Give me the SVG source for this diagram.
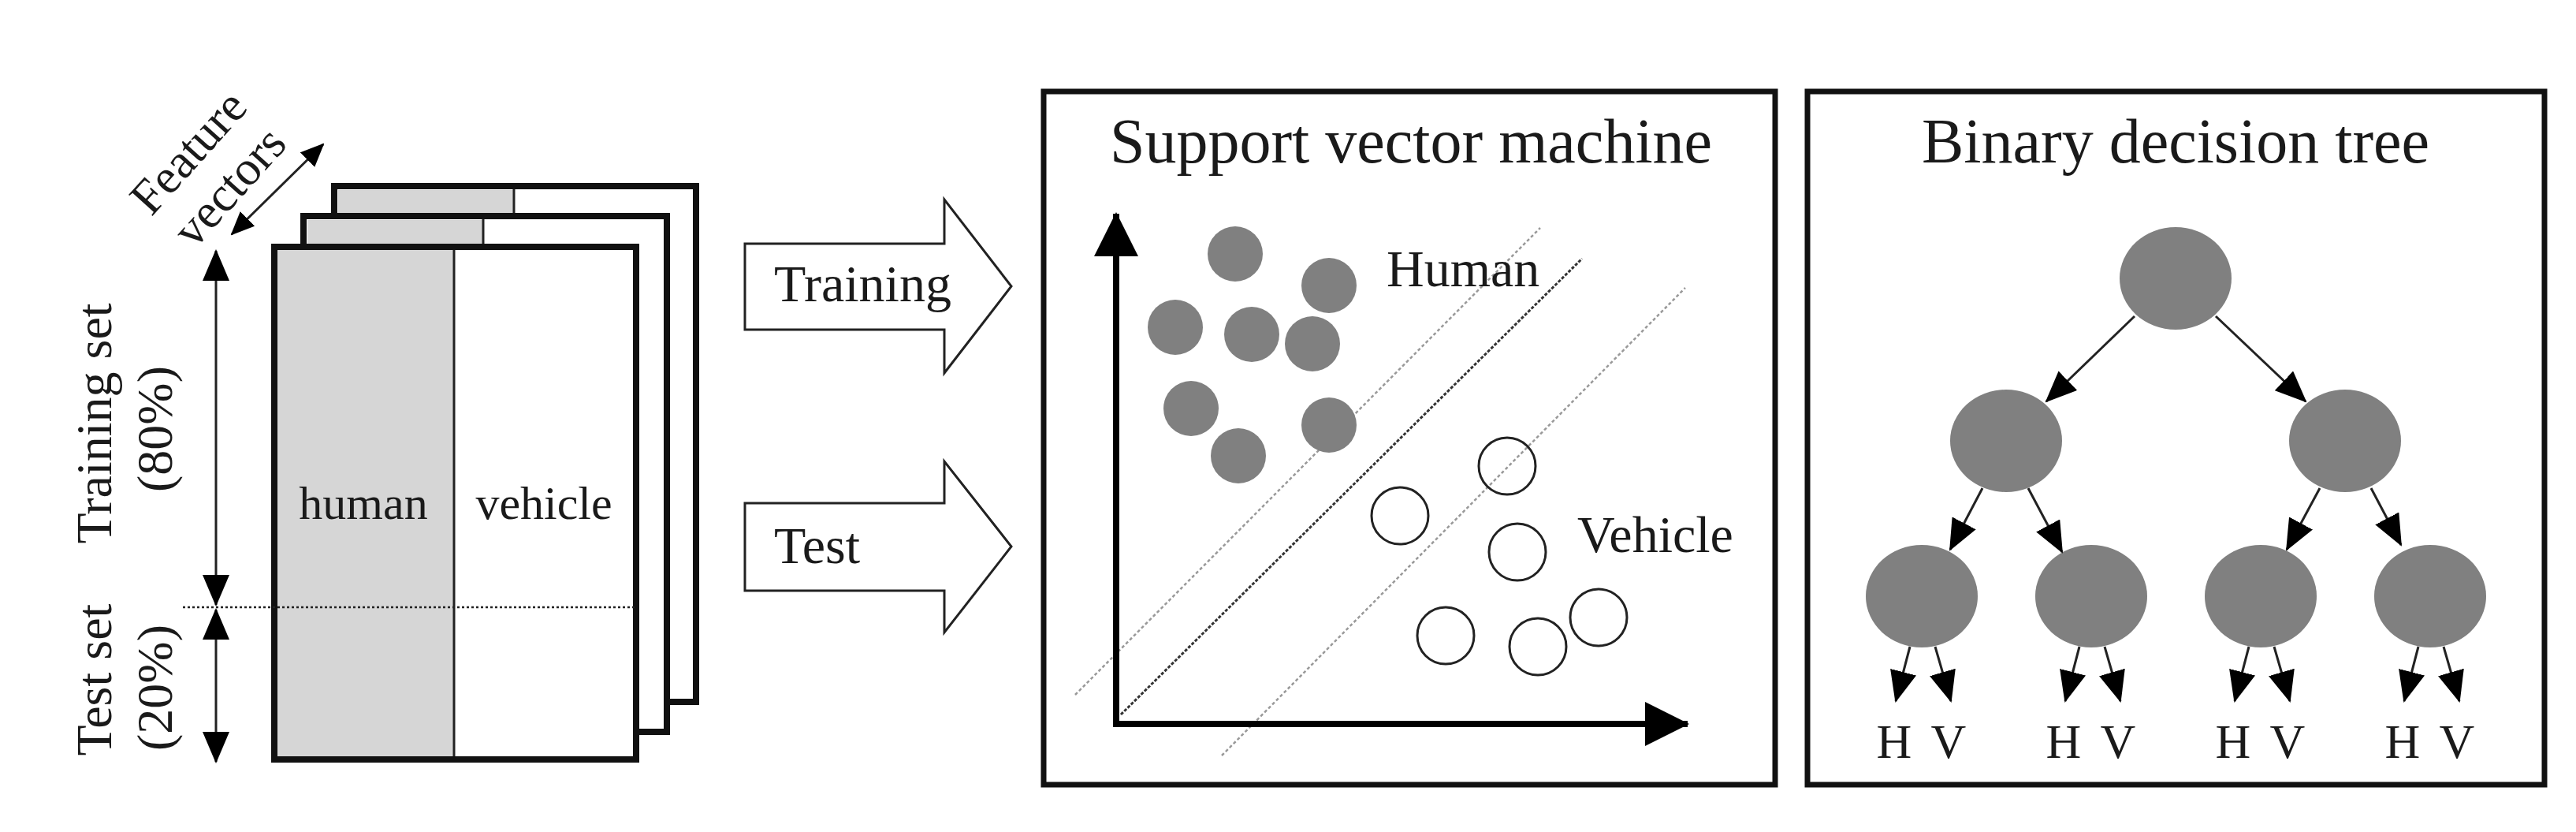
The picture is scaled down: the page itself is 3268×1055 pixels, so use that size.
<svg xmlns="http://www.w3.org/2000/svg" width="3268" height="1055" viewBox="0 0 3268 1055">
<style>
text{font-family:"Liberation Serif","Times New Roman",serif;fill:#1a1a1a}
.sheet{fill:#fff;stroke:#111;stroke-width:8}
.gray{fill:#d6d6d6}
.div{stroke:#222;stroke-width:3}
.box{fill:#fff;stroke:#111;stroke-width:7}
.blk{fill:#fff;stroke:#222;stroke-width:3}
.dot{fill:#808080}
.open{fill:none;stroke:#222;stroke-width:3}
.node{fill:#808080}
.edge{stroke:#222;stroke-width:3;fill:none}
</style>
<defs>
<marker id="ah" viewBox="0 0 40 34" refX="38" refY="17" markerWidth="40" markerHeight="34" markerUnits="userSpaceOnUse" orient="auto-start-reverse"><path d="M0,0 L40,17 L0,34 Z" fill="#000"/></marker>
<marker id="ahs" viewBox="0 0 30 26" refX="28" refY="13" markerWidth="30" markerHeight="26" markerUnits="userSpaceOnUse" orient="auto-start-reverse"><path d="M0,0 L30,13 L0,26 Z" fill="#000"/></marker>
<marker id="ax" viewBox="0 0 56 56" refX="54" refY="28" markerWidth="56" markerHeight="56" markerUnits="userSpaceOnUse" orient="auto"><path d="M0,0 L56,28 L0,56 Z" fill="#000"/></marker>
</defs>

<g id="dataset">
<rect class="sheet" x="424" y="236" width="459" height="654"/>
<rect class="gray" x="429" y="241" width="223" height="30"/>
<line class="div" x1="652" y1="240" x2="652" y2="272"/>
<rect class="sheet" x="385" y="274" width="461" height="654"/>
<rect class="gray" x="390" y="279" width="223" height="33"/>
<line class="div" x1="613" y1="278" x2="613" y2="312"/>
<rect class="sheet" x="348" y="313" width="459" height="650"/>
<rect class="gray" x="352" y="317" width="224" height="642"/>
<line class="div" x1="576" y1="317" x2="576" y2="959"/>
<line x1="232" y1="770" x2="808" y2="770" stroke="#222" stroke-width="2.5" stroke-dasharray="3,3"/>
<text x="461" y="658" font-size="60" text-anchor="middle">human</text>
<text x="690" y="658" font-size="60" text-anchor="middle">vehicle</text>
</g>

<g id="labels-left">
<text transform="translate(141,537) rotate(-90)" font-size="64" text-anchor="middle">Training set</text>
<text transform="translate(218,544) rotate(-90)" font-size="64" text-anchor="middle">(80%)</text>
<text transform="translate(141,862) rotate(-90)" font-size="64" text-anchor="middle">Test set</text>
<text transform="translate(218,872) rotate(-90)" font-size="64" text-anchor="middle">(20%)</text>
<text transform="translate(238,192) rotate(-48)" font-size="62" text-anchor="middle" dy=".35em">Feature</text>
<text transform="translate(290,236) rotate(-48)" font-size="62" text-anchor="middle" dy=".35em">vectors</text>
</g>

<g id="training-arrow">
<path class="blk" d="M945,309 L1198,309 L1198,253 L1283,363 L1198,473 L1198,418 L945,418 Z"/>
<text x="982" y="382" font-size="66">Training</text>
</g>
<g id="test-arrow">
<path class="blk" d="M945,638 L1198,638 L1198,585 L1283,693 L1198,802 L1198,749 L945,749 Z"/>
<text x="982" y="714" font-size="66">Test</text>
</g>

<g id="svm">
<rect class="box" x="1324" y="116" width="928" height="879"/>
<text x="1790" y="206" font-size="80" text-anchor="middle">Support vector machine</text>
<line x1="1364" y1="881" x2="1954" y2="289" stroke="#999" stroke-width="2.5" stroke-dasharray="4,3"/>
<line x1="1422" y1="906" x2="2007" y2="328" stroke="#333" stroke-width="3" stroke-dasharray="4,2"/>
<line x1="1550" y1="958" x2="2138" y2="365" stroke="#999" stroke-width="2.5" stroke-dasharray="4,3"/>
<line x1="1416" y1="918" x2="1416" y2="271" stroke="#000" stroke-width="8" marker-end="url(#ax)"/>
<line x1="1412" y1="918" x2="2141" y2="918" stroke="#000" stroke-width="8" marker-end="url(#ax)"/>
<circle class="dot" cx="1567" cy="322" r="35"/>
<circle class="dot" cx="1686" cy="362" r="35"/>
<circle class="dot" cx="1491" cy="415" r="35"/>
<circle class="dot" cx="1588" cy="424" r="35"/>
<circle class="dot" cx="1665" cy="436" r="35"/>
<circle class="dot" cx="1511" cy="518" r="35"/>
<circle class="dot" cx="1686" cy="539" r="35"/>
<circle class="dot" cx="1571" cy="578" r="35"/>
<circle class="open" cx="1912" cy="591" r="36"/>
<circle class="open" cx="1776" cy="654" r="36"/>
<circle class="open" cx="1925" cy="700" r="36"/>
<circle class="open" cx="2028" cy="783" r="36"/>
<circle class="open" cx="1834" cy="806" r="36"/>
<circle class="open" cx="1951" cy="820" r="36"/>
<text x="1759" y="363" font-size="66">Human</text>
<text x="2001" y="700" font-size="66">Vehicle</text>
</g>

<g id="tree">
<rect class="box" x="2293" y="116" width="935" height="879"/>
<text x="2760" y="206" font-size="80" text-anchor="middle">Binary decision tree</text>
<ellipse class="node" cx="2760" cy="353" rx="71" ry="65"/>
<ellipse class="node" cx="2545" cy="559" rx="71" ry="65"/>
<ellipse class="node" cx="2975" cy="559" rx="71" ry="65"/>
<ellipse class="node" cx="2438" cy="756" rx="71" ry="65"/>
<ellipse class="node" cx="2653" cy="756" rx="71" ry="65"/>
<ellipse class="node" cx="2868" cy="756" rx="71" ry="65"/>
<ellipse class="node" cx="3083" cy="756" rx="71" ry="65"/>
<g font-size="62" text-anchor="middle">
<text x="2403" y="961">H</text><text x="2472" y="961">V</text>
<text x="2618" y="961">H</text><text x="2687" y="961">V</text>
<text x="2833" y="961">H</text><text x="2902" y="961">V</text>
<text x="3048" y="961">H</text><text x="3117" y="961">V</text>
</g>
</g>

<g id="connectors">
<line x1="274" y1="318" x2="274" y2="767" stroke="#222" stroke-width="3" marker-start="url(#ah)" marker-end="url(#ah)"/>
<line x1="274" y1="773" x2="274" y2="966" stroke="#222" stroke-width="3" marker-start="url(#ah)" marker-end="url(#ah)"/>
<line x1="294" y1="297" x2="410" y2="183" stroke="#222" stroke-width="3" marker-start="url(#ahs)" marker-end="url(#ahs)"/>
<line class="edge" x1="2708" y1="401" x2="2596" y2="509" marker-end="url(#ah)"/>
<line class="edge" x1="2811" y1="401" x2="2925" y2="509" marker-end="url(#ah)"/>
<line class="edge" x1="2515" y1="619" x2="2474" y2="697" marker-end="url(#ah)"/>
<line class="edge" x1="2573" y1="619" x2="2616" y2="700" marker-end="url(#ah)"/>
<line class="edge" x1="2943" y1="619" x2="2901" y2="697" marker-end="url(#ah)"/>
<line class="edge" x1="3008" y1="619" x2="3046" y2="691" marker-end="url(#ah)"/>
<line class="edge" x1="2423" y1="820" x2="2405" y2="889" marker-end="url(#ah)"/>
<line class="edge" x1="2455" y1="820" x2="2475" y2="889" marker-end="url(#ah)"/>
<line class="edge" x1="2638" y1="820" x2="2620" y2="889" marker-end="url(#ah)"/>
<line class="edge" x1="2670" y1="820" x2="2690" y2="889" marker-end="url(#ah)"/>
<line class="edge" x1="2853" y1="820" x2="2835" y2="889" marker-end="url(#ah)"/>
<line class="edge" x1="2885" y1="820" x2="2905" y2="889" marker-end="url(#ah)"/>
<line class="edge" x1="3068" y1="820" x2="3050" y2="889" marker-end="url(#ah)"/>
<line class="edge" x1="3100" y1="820" x2="3120" y2="889" marker-end="url(#ah)"/>
</g>
</svg>
